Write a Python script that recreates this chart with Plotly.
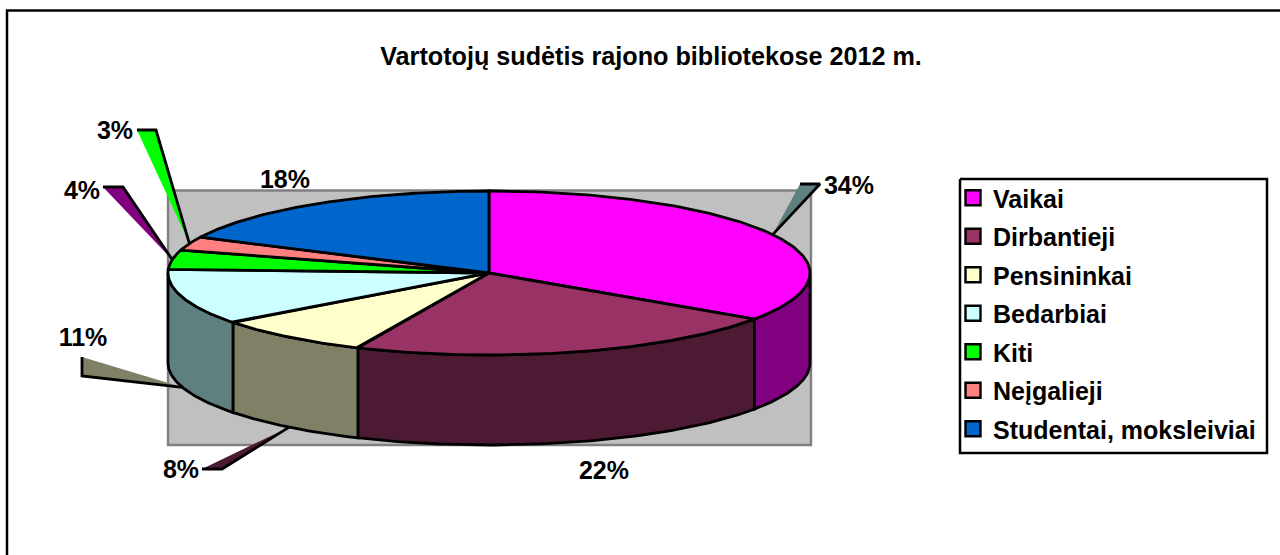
import numpy as np
import plotly.graph_objects as go

# --- data ---
categories = ["Vaikai", "Dirbantieji", "Pensininkai", "Bedarbiai", "Kiti", "Neįgalieji", "Studentai, moksleiviai"]
values = [34.49, 22.2, 8.0, 11.0, 3.8, 2.7, 17.8]
top_colors = ["#FF00FF", "#993366", "#FFFFCC", "#CCFFFF", "#00FF00", "#FF8080", "#0066CC"]
wall_colors = ["#800080", "#4D1A33", "#808066", "#608080", "#008000", "#804040", "#003366"]
title = "Vartotojų sudėtis rajono bibliotekose 2012 m."

# label placement (pixels)
label_xy = [(849, 188), (604, 473), (181, 472), (83, 340), (82, 193), (115, 133), (285, 182)]
leader_xy = [((800, 184), (820, 184)), None, ((202, 469), (222, 469)), ((82, 357), (82, 376)),
             ((103, 187), (123, 187)), ((137, 130), (156, 130)), None]
leader_colors = ["#608080", None, "#4D1A33", "#808066", "#800080", "#00FF00", None]

# pie geometry (pixels)
CX, CY, RX, RY, DEPTH = 489, 273, 321, 82, 90
FONT = "Liberation Sans"
LW = 2.8

pts = lambda t, dy=0: (CX + RX * np.sin(t), CY - RY * np.cos(t) + dy)

fig = go.Figure()

def poly(x, y, fill, width=LW, color="black"):
    fig.add_trace(go.Scatter(x=list(x), y=list(y), mode="lines", fill="toself", fillcolor=fill,
                             line=dict(color=color, width=width), showlegend=False, hoverinfo="skip"))

def path(x, y, width=LW, color="black"):
    fig.add_trace(go.Scatter(x=list(x), y=list(y), mode="lines", line=dict(color=color, width=width),
                             showlegend=False, hoverinfo="skip"))

# chart frame (right and bottom edges fall outside the crop)
path([7, 7, 1281], [556, 10.5, 10.5], 2.5)

# legend frame
poly([960, 1267, 1267, 960, 960], [179, 179, 453, 453, 179], "white", 2.5)

# grey wall behind the pie
poly([168, 811, 811, 168, 168], [190.5, 190.5, 445, 445, 190.5], "#C0C0C0", 2.4, "#808080")

total = sum(values)
edges = np.concatenate([[0], np.cumsum(values)]) / total * 2 * np.pi

# label leaders, drawn under the pie
for i, lead in enumerate(leader_xy):
    if lead is None:
        continue
    mid = (edges[i] + edges[i + 1]) / 2
    tx, ty = pts(mid, DEPTH if np.cos(mid) < 0 else 0)
    (x1, y1), (x2, y2) = lead
    fig.add_trace(go.Scatter(x=[x1, x2, tx, x1], y=[y1, y2, ty, y1], mode="lines", fill="toself",
                             fillcolor=leader_colors[i], line=dict(width=0), showlegend=False, hoverinfo="skip"))
    path([x1, x2, tx], [y1, y2, ty])

# side walls: front half only
for i in range(len(values)):
    a, b = max(edges[i], np.pi / 2), min(edges[i + 1], 3 * np.pi / 2)
    if b <= a:
        continue
    t = np.linspace(a, b, 80)
    tx, ty = pts(t)
    bx, by = pts(t[::-1], DEPTH)
    poly(np.r_[tx, bx, tx[0]], np.r_[ty, by, ty[0]], wall_colors[i])

# top slices
for i in range(len(values)):
    t = np.linspace(edges[i], edges[i + 1], 120)
    ex, ey = pts(t)
    poly(np.r_[CX, ex, CX], np.r_[CY, ey, CY], top_colors[i])

# percentage labels
fig.add_trace(go.Scatter(x=[p[0] for p in label_xy], y=[p[1] for p in label_xy], mode="text",
                         text=[f"{round(v / total * 100)}%" for v in values],
                         textfont=dict(family=FONT, size=25, color="black"),
                         showlegend=False, hoverinfo="skip", texttemplate="<b>%{text}</b>"))

# legend entries
for name, col in zip(categories, top_colors):
    fig.add_trace(go.Scatter(x=[None], y=[None], mode="markers", name=name, legendgroup=name,
                             marker=dict(symbol="square", size=15, color=col, line=dict(color="black", width=2.4))))

fig.update_layout(
    width=1280, height=555, autosize=False,
    margin=dict(l=0, r=0, t=0, b=0),
    paper_bgcolor="white", plot_bgcolor="white",
    xaxis=dict(range=[0, 1280], visible=False, fixedrange=True),
    yaxis=dict(range=[555, 0], visible=False, fixedrange=True),
    title=dict(text=f"<b>{title}</b>", x=651 / 1280, xanchor="center", y=1 - 56 / 555, yanchor="middle",
               font=dict(family=FONT, size=25.2, color="black")),
    legend=dict(x=953 / 1280, xanchor="left", y=1 - 175 / 555, yanchor="top", bgcolor="rgba(0,0,0,0)",
                borderwidth=0, font=dict(family=FONT, size=25, color="black", weight="bold"),
                tracegroupgap=3, itemclick=False, itemdoubleclick=False),
)
fig.write_html("out.html", config=dict(displayModeBar=False),
               post_script="document.body.style.margin='0';document.documentElement.style.overflow='hidden';")
